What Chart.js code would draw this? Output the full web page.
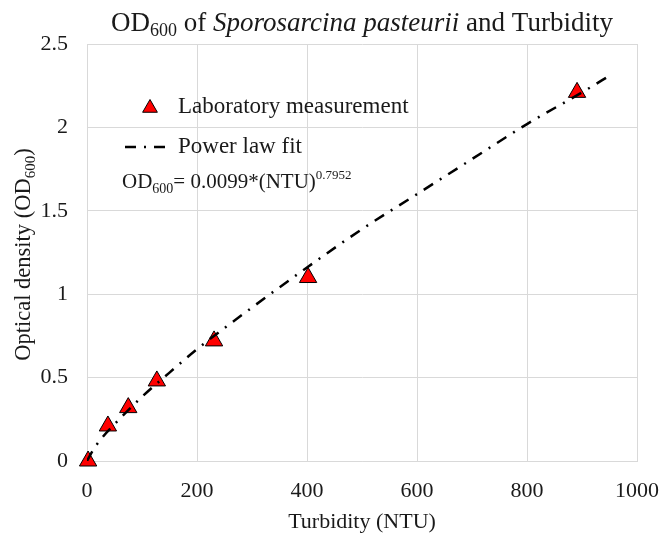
<!DOCTYPE html>
<html>
<head>
<meta charset="utf-8">
<script src="https://cdn.jsdelivr.net/npm/chart.js@4/dist/chart.umd.min.js"></script>
<style>
  body { margin: 0; background: #fff; }
  #wrap { width: 664px; height: 533px; }
</style>
</head>
<body>
<div id="wrap"><canvas id="odChart" width="664" height="533"></canvas></div>
<script>
// measured points (turbidity NTU, OD600)
const turbidity = [2, 38, 75, 127, 231, 402, 891];
const opticalDensity = [0, 0.21, 0.32, 0.48, 0.72, 1.10, 2.21];

// power law fit curve
const fitNTU = [0, 10, 25, 50, 100, 150, 200, 300, 400, 500, 600, 700, 800, 900, 955];
const fitOD = [0, 0.06, 0.13, 0.22, 0.385, 0.53, 0.67, 0.92, 1.16, 1.39, 1.60, 1.81, 2.02, 2.21, 2.32];

const xTicks = [0, 200, 400, 600, 800, 1000];
const yTicks = [0, 0.5, 1, 1.5, 2, 2.5];

const SERIF = '"Liberation Serif", "Times New Roman", serif';
const DASH = [11, 8, 2, 8];
const TEXT = '#1a1a1a';

// draw a run of text pieces with their own font / vertical shift
const drawRich = (ctx, parts, x, y, align) => {
    let total = 0;
    parts.forEach(p => { ctx.font = p.font; total += ctx.measureText(p.text).width; });
    let cx = align === 'center' ? x - total / 2 : x;
    parts.forEach(p => {
        ctx.font = p.font;
        ctx.fillText(p.text, cx, y + (p.dy || 0));
        cx += ctx.measureText(p.text).width;
    });
};

const annotations = {
    id: 'annotations',
    afterDraw(chart) {
        const { ctx, chartArea: area } = chart;
        ctx.save();
        ctx.fillStyle = TEXT;
        ctx.textBaseline = 'alphabetic';
        ctx.textAlign = 'left';

        // title
        drawRich(ctx, [
            { text: 'OD', font: `27px ${SERIF}` },
            { text: '600', font: `18px ${SERIF}`, dy: 5 },
            { text: ' of ', font: `27px ${SERIF}` },
            { text: 'Sporosarcina pasteurii', font: `italic 27px ${SERIF}` },
            { text: ' and Turbidity', font: `27px ${SERIF}` }
        ], (area.left + area.right) / 2, 31, 'center');

        // y axis title
        ctx.save();
        ctx.translate(22, (area.top + area.bottom) / 2 + 2);
        ctx.rotate(-Math.PI / 2);
        drawRich(ctx, [
            { text: 'Optical density (OD', font: `22.5px ${SERIF}` },
            { text: '600', font: `15px ${SERIF}`, dy: 5 },
            { text: ')', font: `22.5px ${SERIF}` }
        ], 0, 8, 'center');
        ctx.restore();

        // legend: marker entry
        ctx.fillStyle = '#ff0000';
        ctx.strokeStyle = '#000';
        Chart.helpers.drawPoint(ctx, { pointStyle: 'triangle', radius: 8.5, borderWidth: 1, rotation: 0 },
            area.left + 63, area.top + 64);
        ctx.fillStyle = TEXT;
        ctx.font = `23px ${SERIF}`;
        ctx.fillText('Laboratory measurement', area.left + 91, area.top + 69);

        // legend: fit line entry
        ctx.beginPath();
        ctx.setLineDash(DASH);
        ctx.lineWidth = 2.5;
        ctx.strokeStyle = '#000';
        ctx.moveTo(area.left + 38, area.top + 103);
        ctx.lineTo(area.left + 80, area.top + 103);
        ctx.stroke();
        ctx.setLineDash([]);
        ctx.fillText('Power law fit', area.left + 91, area.top + 109);

        // equation
        drawRich(ctx, [
            { text: 'OD', font: `21px ${SERIF}` },
            { text: '600', font: `14px ${SERIF}`, dy: 5 },
            { text: '= 0.0099*(NTU)', font: `21px ${SERIF}` },
            { text: '0.7952', font: `13px ${SERIF}`, dy: -9 }
        ], area.left + 35, area.top + 144, 'left');

        ctx.restore();
    }
};

const ctx = document.getElementById('odChart').getContext('2d');

new Chart(ctx, {
    type: 'scatter',
    data: {
        datasets: [
            {
                label: 'Power law fit',
                type: 'line',
                data: fitNTU.map((x, i) => ({ x, y: fitOD[i] })),
                borderColor: '#000',
                borderWidth: 2.5,
                borderDash: DASH,
                pointRadius: 0,
                fill: false,
                cubicInterpolationMode: 'monotone',
                order: 0
            },
            {
                label: 'Laboratory measurement',
                data: turbidity.map((x, i) => ({ x, y: opticalDensity[i] })),
                pointStyle: 'triangle',
                pointRadius: 10,
                backgroundColor: '#ff0000',
                borderColor: '#000',
                borderWidth: 1,
                clip: false,
                order: 1
            }
        ]
    },
    options: {
        responsive: false,
        animation: false,
        layout: { padding: { top: 44, right: 27, left: 0, bottom: 0 } },
        plugins: {
            legend: { display: false },
            title: { display: false },
            tooltip: { enabled: false }
        },
        scales: {
            x: {
                type: 'linear',
                min: 0,
                max: 1000,
                afterFit: (scale) => {
                    scale.height = 72;
                    scale.paddingLeft = 0;
                    scale.paddingRight = 0;
                },
                afterBuildTicks: (scale) => { scale.ticks = xTicks.map(v => ({ value: v })); },
                grid: { color: '#d9d9d9', lineWidth: 1, drawTicks: false },
                border: { color: '#d9d9d9', width: 1 },
                ticks: {
                    color: TEXT, padding: 17, font: { family: SERIF, size: 22 },
                    callback: (v) => String(v)
                },
                title: {
                    display: true,
                    text: 'Turbidity (NTU)',
                    color: TEXT,
                    padding: 0,
                    font: { family: SERIF, size: 22, lineHeight: 1 }
                }
            },
            y: {
                type: 'linear',
                min: 0,
                max: 2.5,
                afterFit: (scale) => {
                    scale.width = 87;
                    scale.paddingTop = 0;
                    scale.paddingBottom = 0;
                },
                afterBuildTicks: (scale) => { scale.ticks = yTicks.map(v => ({ value: v })); },
                grid: { color: '#d9d9d9', lineWidth: 1, drawTicks: false },
                border: { color: '#d9d9d9', width: 1 },
                ticks: {
                    color: TEXT, padding: 19, font: { family: SERIF, size: 22 },
                    callback: (v) => String(v)
                }
            }
        }
    },
    plugins: [annotations]
});
</script>
</body>
</html>
